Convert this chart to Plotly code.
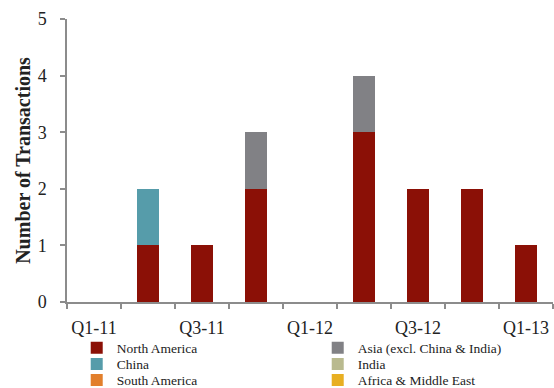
import plotly.graph_objects as go

quarters = ["Q1-11", "Q2-11", "Q3-11", "Q4-11", "Q1-12", "Q2-12", "Q3-12", "Q4-12", "Q1-13"]
tick_labels = ["Q1-11", "Q3-11", "Q1-12", "Q3-12", "Q1-13"]

north_america = [0, 1, 1, 2, 0, 3, 2, 2, 1]
asia_ex = [0, 0, 0, 1, 0, 1, 0, 0, 0]
china = [0, 1, 0, 0, 0, 0, 0, 0, 0]
india = [0, 0, 0, 0, 0, 0, 0, 0, 0]
south_america = [0, 0, 0, 0, 0, 0, 0, 0, 0]
africa_me = [0, 0, 0, 0, 0, 0, 0, 0, 0]

# (name, values, colour, legend row)
series = [
    ("North America", north_america, "#8B1006", "legend"),
    ("Asia (excl. China & India)", asia_ex, "#818185", "legend"),
    ("China", china, "#569CAA", "legend2"),
    ("India", india, "#B9BA8F", "legend2"),
    ("South America", south_america, "#E27F2C", "legend3"),
    ("Africa & Middle East", africa_me, "#E8AF22", "legend3"),
]

x_pos = list(range(len(quarters)))
serif = "Liberation Serif, Times New Roman, serif"
ink = "#222222"
axis_grey = "#8C8C8C"

fig = go.Figure()
for name, vals, color, leg in series:
    fig.add_trace(go.Bar(
        x=x_pos, y=vals, name=name, legend=leg,
        marker=dict(color=color, line=dict(width=0)),
        width=0.41,
    ))


def legend_row(y):
    return dict(
        orientation="h", traceorder="normal",
        x=0.02, y=y, xanchor="left", yanchor="top",
        font=dict(family=serif, size=13.5, color=ink),
        entrywidth=196, entrywidthmode="pixels",
        itemclick=False, bgcolor="rgba(0,0,0,0)",
    )


fig.update_layout(
    barmode="stack",
    width=554, height=388,
    margin=dict(l=67, r=1, t=19, b=86, autoexpand=False),
    plot_bgcolor="white", paper_bgcolor="white",
    font=dict(family=serif, color=ink),
    legend=legend_row(-0.108),
    legend2=legend_row(-0.165),
    legend3=legend_row(-0.222),
    showlegend=True,
)

fig.update_xaxes(
    range=[-0.5, 8.5],
    tickvals=[quarters.index(t) for t in tick_labels],
    ticktext=tick_labels,
    ticks="outside", ticklen=9, tickcolor="rgba(0,0,0,0)",
    tickfont=dict(family=serif, size=18, color=ink),
    showline=True, linecolor=axis_grey, linewidth=1.5,
    showgrid=False, zeroline=False,
    minor=dict(
        tickvals=[i - 0.5 for i in range(len(quarters) + 1)],
        ticks="outside", ticklen=5, tickcolor=axis_grey, tickwidth=1.5,
        showgrid=False,
    ),
)

fig.update_yaxes(
    range=[0, 5], dtick=1,
    ticks="outside", ticklen=5, tickcolor=axis_grey, tickwidth=1.5,
    ticklabelstandoff=10,
    tickfont=dict(family=serif, size=18, color=ink),
    showline=True, linecolor=axis_grey, linewidth=1.5,
    showgrid=False, zeroline=False,
    title=dict(text="<b>Number of Transactions</b>",
               font=dict(family=serif, size=20, color=ink),
               standoff=2),
)

fig.write_html("out.html")
